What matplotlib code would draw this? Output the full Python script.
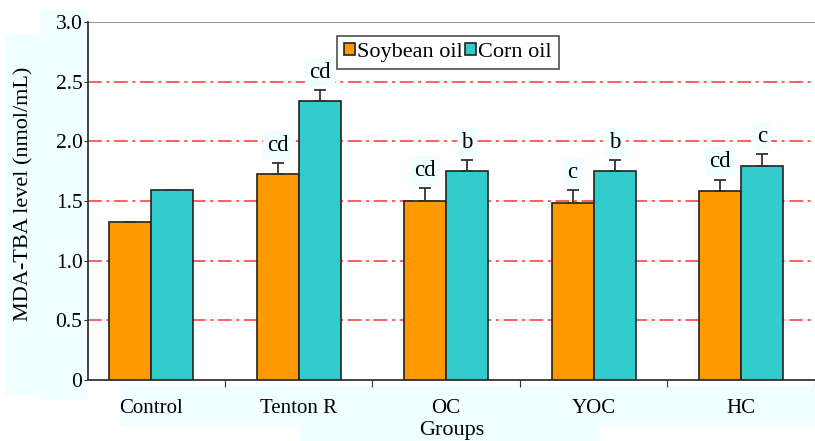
import matplotlib.pyplot as plt
import numpy as np
from matplotlib.patches import Rectangle

groups = ['Control', 'Tenton R', 'OC', 'YOC', 'HC']
soybean = [1.32, 1.73, 1.50, 1.48, 1.58]
corn = [1.59, 2.34, 1.75, 1.75, 1.79]
soybean_err = [0, 0.09, 0.11, 0.11, 0.10]
corn_err = [0, 0.09, 0.09, 0.09, 0.10]
soybean_letters = ['', 'cd', 'cd', 'c', 'cd']
corn_letters = ['', 'cd', 'b', 'b', 'c']

plt.rcParams['font.family'] = 'Liberation Serif'
plt.rcParams['font.size'] = 15

orange = '#ff9900'
teal = '#33cccc'
hilite = '#f0ffff'

fig = plt.figure(figsize=(8.15, 4.41), dpi=100)
ax = fig.add_axes([88/815, 61/441, 1 - 88/815, 358/441])

# light highlight panels behind label areas
for x0, y0, w, h in [(5, 46, 35, 360), (40, 41, 48, 390), (120, 16, 695, 40), (300, 0, 300, 22)]:
    fig.patches.append(Rectangle((x0/815, y0/441), w/815, h/441, transform=fig.transFigure,
                                 facecolor=hilite, edgecolor='none', zorder=-1))
fig.patch.set_facecolor('white')
ax.set_facecolor('white')

x = np.arange(len(groups))
w = 0.285
err_kw = dict(ecolor='#333333', capsize=4, elinewidth=1.3, capthick=1.3)
ax.bar(x - w/2, soybean, w, color=orange, edgecolor='#222222', linewidth=1.2,
       yerr=[np.zeros(5), soybean_err], error_kw=err_kw, label='Soybean oil', zorder=3)
ax.bar(x + w/2, corn, w, color=teal, edgecolor='#222222', linewidth=1.2,
       yerr=[np.zeros(5), corn_err], error_kw=err_kw, label='Corn oil', zorder=3)

for i in range(len(groups)):
    if soybean_letters[i]:
        ax.text(x[i] - w/2, soybean[i] + soybean_err[i] + 0.06, soybean_letters[i],
                ha='center', va='bottom', fontsize=16.5,
                bbox=dict(facecolor=hilite, edgecolor='none', pad=3))
    if corn_letters[i]:
        ax.text(x[i] + w/2, corn[i] + corn_err[i] + 0.06, corn_letters[i],
                ha='center', va='bottom', fontsize=16.5,
                bbox=dict(facecolor=hilite, edgecolor='none', pad=3))

# dash-dot reference lines
for yv in [0.5, 1.0, 1.5, 2.0, 2.5]:
    ax.axhline(yv, color='#ff3333', linestyle=(0, (9, 3, 2, 3)), linewidth=1.1, zorder=1)
ax.axhline(3.0, color='#999999', linewidth=1.5, zorder=1)

ax.set_xlim(-0.427, 4.42)
ax.set_ylim(0, 3.0)
ax.set_yticks([0, 0.5, 1.0, 1.5, 2.0, 2.5, 3.0])
ax.set_yticklabels(['0', '0.5', '1.0', '1.5', '2.0', '2.5', '3.0'], fontsize=15.5)
ax.set_xticks(x + 0.5)
ax.set_xticklabels([])
ax.set_xticks(x, minor=True)
ax.set_xticklabels(groups, minor=True, fontsize=15)
ax.tick_params(axis='x', which='minor', length=0, pad=14)
ax.tick_params(axis='x', which='major', length=5, direction='out', color='#333333')
ax.tick_params(axis='y', length=3, color='#333333', pad=1)

for s in ['top', 'right']:
    ax.spines[s].set_visible(False)
ax.spines['left'].set_color('#333333')
ax.spines['bottom'].set_color('#333333')
ax.spines['left'].set_linewidth(1.3)
ax.spines['bottom'].set_linewidth(1.3)

ax.set_ylabel('MDA-TBA level (nmol/mL)', fontsize=16)
ax.yaxis.set_label_coords(-0.075, 0.52)
ax.set_xlabel('Groups', fontsize=16, labelpad=2)

leg = ax.legend(loc='upper center', bbox_to_anchor=(0.495, 0.961), ncol=2, fontsize=16,
                frameon=True, fancybox=False, edgecolor='#222222', handlelength=0.5,
                handleheight=0.5, handletextpad=0.1, columnspacing=0.1, borderpad=0.3,
                borderaxespad=0)
leg.get_frame().set_linewidth(1.2)
for h in leg.legend_handles:
    h.set_edgecolor('#222222')

fig.savefig('out.png', dpi=100)
